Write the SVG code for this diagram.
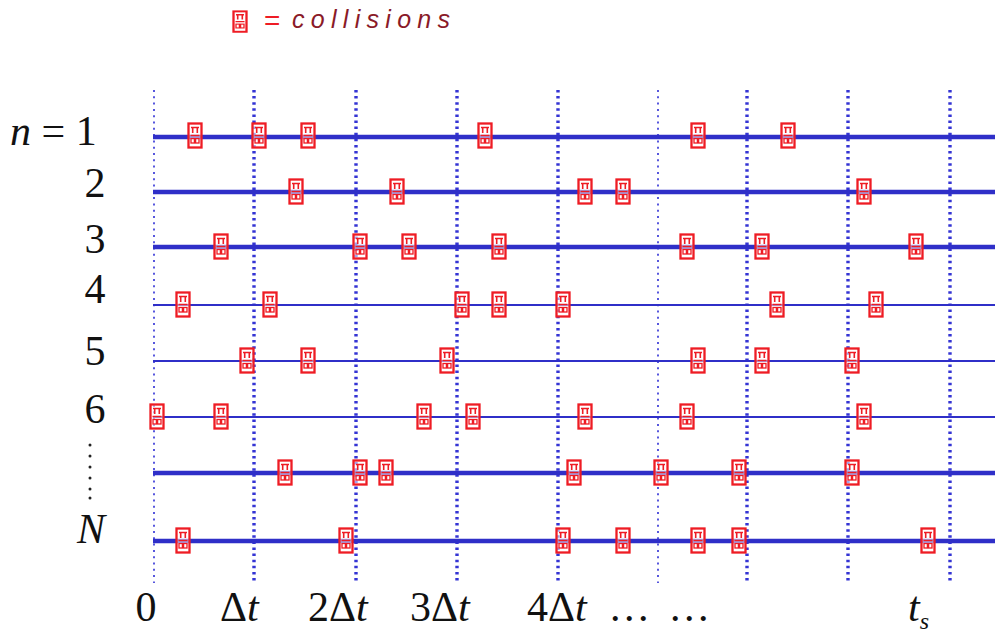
<svg xmlns="http://www.w3.org/2000/svg" width="995" height="636" viewBox="0 0 995 636">
<style>
.vt{stroke:#3434d4;stroke-width:3.4;stroke-dasharray:2.5 3.6;fill:none}
.vd{stroke:#3a3ad8;stroke-width:1.7;stroke-dasharray:2 4.3;fill:none}
.hk{stroke:#2f2fc8;stroke-width:4.5;fill:none}
.hn{stroke:#2f2fc8;stroke-width:2;fill:none}
.lab{font-family:"Liberation Serif","DejaVu Serif",serif;font-size:42px;fill:#111}
.it{font-style:italic}
</style>
<defs>
<g id="c">
<rect x="-6.5" y="-12.5" width="13" height="24" fill="#fff" fill-opacity="0.55" stroke="#ee1c24" stroke-width="2.3"/>
<path d="M-4 -8.5H4M-2.3 -8.5V-3M2.3 -8.5V-3M-4.5 -0.5H4.5" stroke="#ee1c24" stroke-width="1.6" fill="none"/>
<rect x="-4" y="2.5" width="3.4" height="4.5" fill="none" stroke="#ee1c24" stroke-width="1.3"/>
<rect x="0.6" y="2.5" width="3.4" height="4.5" fill="none" stroke="#ee1c24" stroke-width="1.3"/>
</g>
</defs>
<rect width="995" height="636" fill="#fff"/>
<g id="legend">
<g transform="translate(240,22) scale(1,0.85)"><use href="#c"/></g>
<text x="264" y="30" font-family="Liberation Sans,Arial,sans-serif" font-size="28" fill="#ee1c24">=</text>
<text x="292" y="28" font-family="Liberation Sans,Arial,sans-serif" font-size="25" font-style="italic" fill="#8a1a28" textLength="158" lengthAdjust="spacing">collisions</text>
</g>
<g id="connectors">
<g id="gridlines">
<line class="vd" x1="154" y1="90" x2="154" y2="583"/>
<line class="vt" x1="254" y1="90" x2="254" y2="583"/>
<line class="vt" x1="356" y1="90" x2="356" y2="583"/>
<line class="vt" x1="457" y1="90" x2="457" y2="583"/>
<line class="vt" x1="558" y1="90" x2="558" y2="583"/>
<line class="vd" x1="658" y1="90" x2="658" y2="583"/>
<line class="vt" x1="747" y1="90" x2="747" y2="583"/>
<line class="vt" x1="848" y1="90" x2="848" y2="583"/>
<line class="vt" x1="950" y1="90" x2="950" y2="583"/>
</g>
<g id="rows">
<line class="hk" x1="153" y1="137" x2="995" y2="137"/>
<line class="hk" x1="153" y1="192" x2="995" y2="192"/>
<line class="hk" x1="153" y1="247" x2="995" y2="247"/>
<line class="hn" x1="153" y1="305" x2="995" y2="305"/>
<line class="hn" x1="153" y1="361" x2="995" y2="361"/>
<line class="hn" x1="153" y1="417" x2="995" y2="417"/>
<line class="hk" x1="153" y1="473" x2="995" y2="473"/>
<line class="hk" x1="153" y1="541" x2="995" y2="541"/>
</g>
</g>
<g id="row1">
<use href="#c" x="195" y="136"/><use href="#c" x="259" y="136"/><use href="#c" x="308" y="136"/><use href="#c" x="485" y="136"/><use href="#c" x="698" y="136"/><use href="#c" x="788" y="136"/>
</g>
<g id="row2">
<use href="#c" x="296" y="192"/><use href="#c" x="397" y="192"/><use href="#c" x="585" y="192"/><use href="#c" x="623" y="192"/><use href="#c" x="864" y="192"/>
</g>
<g id="row3">
<use href="#c" x="221" y="247"/><use href="#c" x="360" y="247"/><use href="#c" x="409" y="247"/><use href="#c" x="499" y="247"/><use href="#c" x="687" y="247"/><use href="#c" x="762" y="247"/><use href="#c" x="916" y="247"/>
</g>
<g id="row4">
<use href="#c" x="183" y="305"/><use href="#c" x="270" y="305"/><use href="#c" x="462" y="305"/><use href="#c" x="499" y="305"/><use href="#c" x="563" y="305"/><use href="#c" x="777" y="305"/><use href="#c" x="876" y="305"/>
</g>
<g id="row5">
<use href="#c" x="247" y="361"/><use href="#c" x="308" y="361"/><use href="#c" x="447" y="361"/><use href="#c" x="698" y="361"/><use href="#c" x="762" y="361"/><use href="#c" x="852" y="361"/>
</g>
<g id="row6">
<use href="#c" x="157" y="417"/><use href="#c" x="221" y="417"/><use href="#c" x="424" y="417"/><use href="#c" x="473" y="417"/><use href="#c" x="585" y="417"/><use href="#c" x="687" y="417"/><use href="#c" x="864" y="417"/>
</g>
<g id="row7">
<use href="#c" x="285" y="473"/><use href="#c" x="360" y="473"/><use href="#c" x="386" y="473"/><use href="#c" x="574" y="473"/><use href="#c" x="661" y="473"/><use href="#c" x="739" y="473"/><use href="#c" x="852" y="473"/>
</g>
<g id="rowN">
<use href="#c" x="183" y="541"/><use href="#c" x="346" y="541"/><use href="#c" x="563" y="541"/><use href="#c" x="623" y="541"/><use href="#c" x="698" y="541"/><use href="#c" x="739" y="541"/><use href="#c" x="928" y="541"/>
</g>
<g id="ylabels">
<text class="lab" x="10" y="145"><tspan class="it">n</tspan> = 1</text>
<text class="lab" x="95" y="197" text-anchor="middle">2</text>
<text class="lab" x="95" y="253" text-anchor="middle">3</text>
<text class="lab" x="95" y="303" text-anchor="middle">4</text>
<text class="lab" x="95" y="365" text-anchor="middle">5</text>
<text class="lab" x="95" y="423" text-anchor="middle">6</text>
<g fill="#222"><circle cx="90" cy="445" r="1.5"/><circle cx="90" cy="456" r="1.5"/><circle cx="90" cy="467" r="1.5"/><circle cx="90" cy="478" r="1.5"/><circle cx="90" cy="489" r="1.5"/><circle cx="90" cy="498" r="1.5"/></g>
<text class="lab it" x="91" y="543" text-anchor="middle">N</text>
</g>
<g id="xlabels">
<text class="lab" x="146" y="621" text-anchor="middle">0</text>
<text class="lab" x="220" y="621">Δ<tspan class="it">t</tspan></text>
<text class="lab" x="308" y="621">2Δ<tspan class="it">t</tspan></text>
<text class="lab" x="410" y="621">3Δ<tspan class="it">t</tspan></text>
<text class="lab" x="527" y="621">4Δ<tspan class="it">t</tspan></text>
<text class="lab" x="610" y="621" letter-spacing="3.5">...</text>
<text class="lab" x="670" y="621" letter-spacing="3.5">...</text>
<text class="lab it" x="908" y="621">t<tspan font-size="24" dy="8">s</tspan></text>
</g>
</svg>
